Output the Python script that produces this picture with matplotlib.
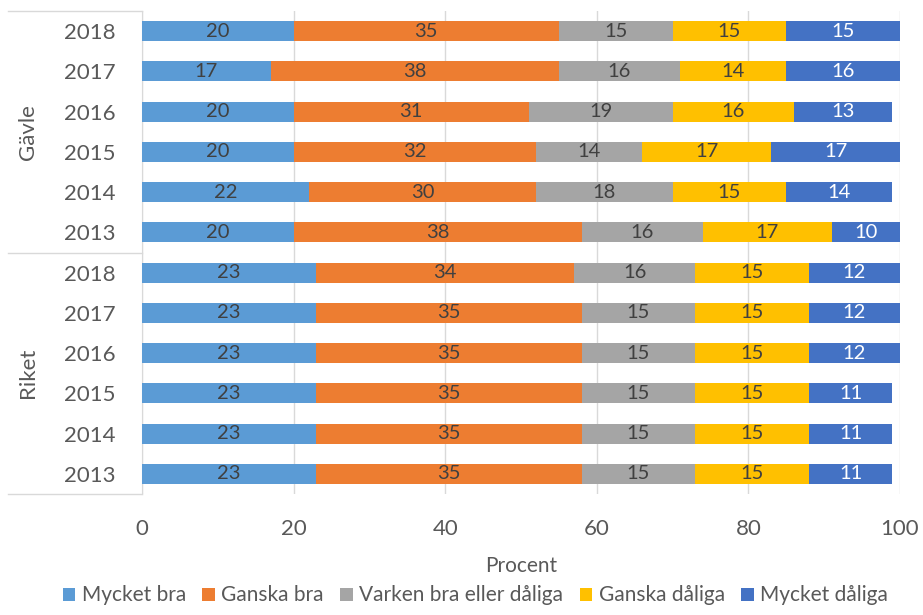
import numpy as np
import matplotlib.pyplot as plt
import matplotlib.transforms as mtransforms

plt.rcParams['font.family'] = ['Lato', 'DejaVu Sans']

# rows from top to bottom
groups = ['Gävle', 'Riket']
years = ['2018', '2017', '2016', '2015', '2014', '2013']
categories = ['Mycket bra', 'Ganska bra', 'Varken bra eller dåliga', 'Ganska dåliga', 'Mycket dåliga']

gavle = [
    [20, 35, 15, 15, 15],
    [17, 38, 16, 14, 16],
    [20, 31, 19, 16, 13],
    [20, 32, 14, 17, 17],
    [22, 30, 18, 15, 14],
    [20, 38, 16, 17, 10],
]
riket = [
    [23, 34, 16, 15, 12],
    [23, 35, 15, 15, 12],
    [23, 35, 15, 15, 12],
    [23, 35, 15, 15, 11],
    [23, 35, 15, 15, 11],
    [23, 35, 15, 15, 11],
]

colors = ['#5B9BD5', '#ED7D31', '#A5A5A5', '#FFC000', '#4472C4']
label_colors = ['#404040', '#404040', '#404040', '#404040', 'white']
txt = '#595959'

data = np.array(gavle + riket, dtype=float)
n = data.shape[0]
ypos = np.arange(n)[::-1]  # top row at highest y

fig = plt.figure(figsize=(9.23, 6.15), dpi=100)
ax = fig.add_axes([142 / 923, 1 - 494 / 615, 758 / 923, 483 / 615])

left = np.zeros(n)
for i, cat in enumerate(categories):
    vals = data[:, i]
    bars = ax.barh(ypos, vals, left=left, height=0.5, color=colors[i],
                   label=cat, zorder=3)
    ax.bar_label(bars, labels=['%d' % v for v in vals], label_type='center',
                 color=label_colors[i], fontsize=14.5)
    left += vals

ax.set_xlim(0, 100)
ax.set_ylim(-0.5, n - 0.5)
ax.set_xticks(range(0, 101, 20))
ax.set_yticks(ypos)
ax.set_yticklabels(years * 2)
ax.tick_params(axis='both', length=0, labelsize=16, colors=txt)
ax.tick_params(axis='y', pad=19)
ax.tick_params(axis='x', pad=18)
ax.grid(axis='x', color='#D9D9D9', linewidth=1, zorder=0)
for s in ['top', 'right', 'bottom']:
    ax.spines[s].set_visible(False)
ax.spines['left'].set_color('#D9D9D9')

ax.set_xlabel('Procent', fontsize=15, color=txt, labelpad=12)

# group separators and group names on the left
trans = mtransforms.blended_transform_factory(ax.transAxes, ax.transData)
x0 = -134 / 758
for yl in [-0.5, 5.5, 11.5]:
    ax.plot([x0, 0], [yl, yl], transform=trans, color='#D9D9D9', lw=1,
            clip_on=False)
ax.text(-114 / 758, 8.5, groups[0], transform=trans, rotation=90,
        ha='center', va='center', fontsize=16, color=txt)
ax.text(-114 / 758, 2.5, groups[1], transform=trans, rotation=90,
        ha='center', va='center', fontsize=16, color=txt)

fig.legend(loc='lower center', bbox_to_anchor=(0.515, -0.015), ncol=5,
           frameon=False, fontsize=15, labelcolor=txt, handlelength=0.6,
           handleheight=0.6, handletextpad=0.3, columnspacing=0.8)

fig.savefig('out.png', dpi=100)
